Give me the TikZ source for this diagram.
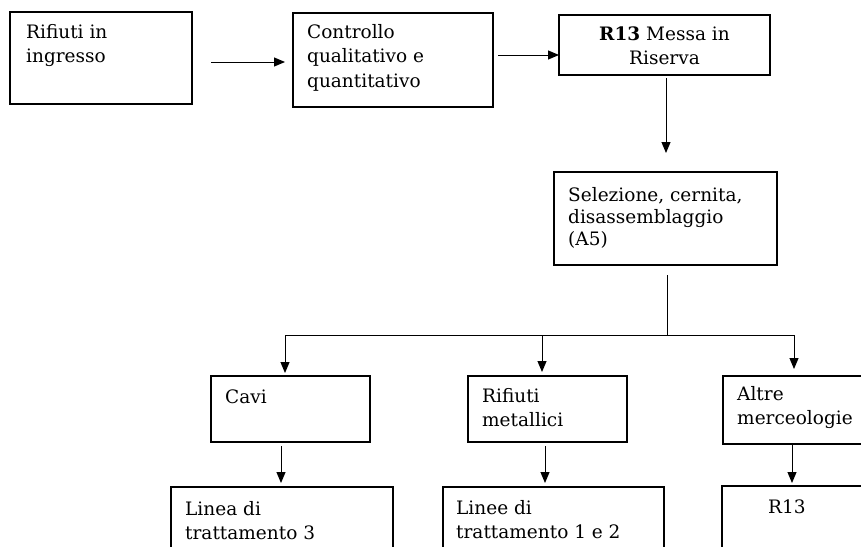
\documentclass[tikz,border=0pt]{standalone}
\usepackage{fontspec}
\setmainfont{DejaVu Serif}
\usetikzlibrary{arrows.meta,calc}
\tikzset{
    blk/.style={draw, line width=1.2pt, anchor=north west, inner sep=0pt, outer sep=0pt},
    txt/.style={anchor=base west, inner sep=0pt},
    line/.style={line width=1pt},
    arr/.style={line width=1pt, -{Triangle[length=11pt,width=9pt]}}
}
\newcommand{\lns}[1]{\parbox[t]{10cm}{\raggedright #1}}

\begin{document}
\begin{tikzpicture}[x=1pt,y=-1pt,font=\fontsize{18.5}{24.5}\selectfont]
    \clip (0,0) rectangle (861,546);
    \fill[white] (0,0) rectangle (861,546);
    % boxes
    \node[blk, minimum width=182pt, minimum height=92pt] (in) at (10,12) {};
    \node[blk, minimum width=200pt, minimum height=94pt] (ctl) at (293,13) {};
    \node[blk, minimum width=211pt, minimum height=60pt] (res) at (559,15) {};
    \node[blk, minimum width=223pt, minimum height=93pt] (sel) at (554,172) {};
    \node[blk, minimum width=159pt, minimum height=66pt] (cav) at (211,376) {};
    \node[blk, minimum width=159pt, minimum height=66pt] (met) at (468,376) {};
    \node[blk, minimum width=154pt, minimum height=68pt] (alt) at (723,376) {};
    \node[blk, minimum width=222pt, minimum height=90pt] (lin3) at (171,487) {};
    \node[blk, minimum width=221pt, minimum height=90pt] (lin12) at (443,487) {};
    \node[blk, minimum width=160pt, minimum height=90pt] (r13) at (722,486) {};
    % texts
    \node[txt] (inT) at ([shift={(16,26)}]in.north west) {\lns{Rifiuti in\\ingresso}};
    \node[txt] (ctlT) at ([shift={(14,25)}]ctl.north west) {\lns{Controllo\\qualitativo e\\quantitativo}};
    \node[txt, anchor=base] (resT) at ([shift={(0,25)}]res.north) {\parbox[t]{211pt}{\centering\textbf{R13} Messa in\\Riserva}};
    \node[txt] (selT) at ([shift={(14,29)}]sel.north west) {\lns{\baselineskip=22pt Selezione, cernita,\\disassemblaggio\\(A5)}};
    \node[txt] (cavT) at ([shift={(14,27)}]cav.north west) {Cavi};
    \node[txt] (metT) at ([shift={(14,26)}]met.north west) {\lns{Rifiuti\\metallici}};
    \node[txt] (altT) at ([shift={(14,24)}]alt.north west) {\lns{Altre\\merceologie}};
    \node[txt] (lin3T) at ([shift={(14,28)}]lin3.north west) {\lns{Linea di\\trattamento 3}};
    \node[txt] (lin12T) at ([shift={(13,27)}]lin12.north west) {\lns{Linee di\\trattamento 1 e 2}};
    \node[txt] (r13T) at ([shift={(46,27)}]r13.north west) {R13};
    % top row
    \draw[arr, shorten <=19pt, shorten >=8pt] ([yshift=-4pt]in.east) -- ([yshift=-4pt]in.east -| ctl.west);
    \draw[arr, shorten <=5pt] ([yshift=5pt]ctl.east) -- ([yshift=5pt]ctl.east -| res.west);
    \draw[arr, shorten <=3pt, shorten >=19pt] ([xshift=1.5pt]res.south) -- ([xshift=1.5pt]res.south |- sel.north);
    % split
    \coordinate (split) at ([shift={(1.5,70)}]sel.south);
    \coordinate (toCav) at ([xshift=-5.5pt]split -| cav.north);
    \coordinate (toMet) at ([xshift=-5.5pt]split -| met.north);
    \coordinate (toAlt) at ([xshift=-6pt]split -| alt.north);
    \draw[line, shorten <=10pt] ([xshift=1.5pt]sel.south) -- (split);
    \draw[line] (toCav) -- (toAlt);
    \draw[arr, shorten >=3pt] (toCav) -- (toCav |- cav.north);
    \draw[arr, shorten >=4pt] (toMet) -- (toMet |- met.north);
    \draw[arr, shorten >=7pt] (toAlt) -- (toAlt |- alt.north);
    % lower row
    \draw[arr, shorten <=4pt, shorten >=4pt] ([xshift=-9.5pt]cav.south) -- ([xshift=-9.5pt]cav.south |- lin3.north);
    \draw[arr, shorten <=4pt, shorten >=4pt] ([xshift=-2.5pt]met.south) -- ([xshift=-2.5pt]met.south |- lin12.north);
    \draw[arr, shorten <=1pt, shorten >=3pt] ([xshift=-8pt]alt.south) -- ([xshift=-8pt]alt.south |- r13.north);
\end{tikzpicture}
\end{document}
